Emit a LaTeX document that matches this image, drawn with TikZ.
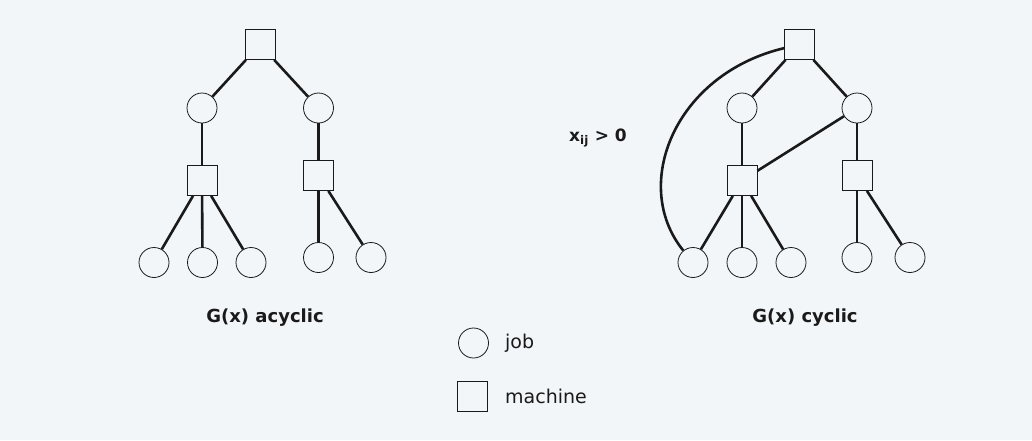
\documentclass[tikz,border=0pt]{standalone}
\usepackage{fontspec}
\setmainfont{DejaVu Sans}
\definecolor{bg}{HTML}{F3F6F9}
\definecolor{ink}{HTML}{1A1A1A}
\begin{document}
\begin{tikzpicture}[x=1pt,y=-1pt,
  job/.style={circle,draw=ink,line width=0.8pt,minimum size=30pt,inner sep=0pt},
  machine/.style={rectangle,draw=ink,line width=0.8pt,minimum size=30pt,inner sep=0pt},
  edge/.style={draw=ink,line width=2.6pt},
  title/.style={font=\fontsize{18}{21}\selectfont\bfseries,text=ink},
  legend/.style={font=\fontsize{19}{23}\selectfont,text=ink,anchor=west,inner sep=0pt}]
\fill[bg] (0,0) rectangle (1032,440);
\useasboundingbox (0,0) rectangle (1032,440);
% left tree
\node[machine] (lm) at (260,44.5) {};
\node[job] (lj1) at (202,108) {};
\node[job] (lj2) at (318.5,108) {};
\node[machine] (lm1) at (202,180.5) {};
\node[machine] (lm2) at (318.5,175.5) {};
\node[job] (lb1) at (154,262.5) {};
\node[job] (lb2) at (202.5,262.5) {};
\node[job] (lb3) at (251,262.5) {};
\node[job] (lb4) at (318.5,257.5) {};
\node[job] (lb5) at (371,257.5) {};
\draw[edge] (lm) -- (lj1);
\draw[edge] (lm) -- (lj2);
\draw[edge] (lj1) -- (lm1);
\draw[edge] (lj2) -- (lm2);
\draw[edge] (lm1) -- (lb1);
\draw[edge] (lm1) -- (lb2);
\draw[edge] (lm1) -- (lb3);
\draw[edge] (lm2) -- (lb4);
\draw[edge] (lm2) -- (lb5);
\node[title] (lt) at (265,318) {G(x) acyclic};
% right tree
\node[machine] (rm) at (799.5,44.5) {};
\node[job] (rj1) at (742,108) {};
\node[job] (rj2) at (857,108) {};
\node[machine] (rm1) at (742,180.5) {};
\node[machine] (rm2) at (857,175.5) {};
\node[job] (rb1) at (693,262.5) {};
\node[job] (rb2) at (742,262.5) {};
\node[job] (rb3) at (791,262.5) {};
\node[job] (rb4) at (857,257.5) {};
\node[job] (rb5) at (910,257.5) {};
\draw[edge] (rm) -- (rj1);
\draw[edge] (rm) -- (rj2);
\draw[edge] (rj1) -- (rm1);
\draw[edge] (rj2) -- (rm2);
\draw[edge] (rj2) -- (rm1);
\draw[edge] (rm1) -- (rb1);
\draw[edge] (rm1) -- (rb2);
\draw[edge] (rm1) -- (rb3);
\draw[edge] (rm2) -- (rb4);
\draw[edge] (rm2) -- (rb5);
\draw[edge] (rm) .. controls (675,74) and (630,185) .. (rb1);
\node[title] (rt) at (805,318) {G(x) cyclic};
\node[title,font=\fontsize{17}{20}\selectfont\bfseries] (xl) at (598,138) {x\textsubscript{ij} > 0};
% legend
\node[job] (lgj) at (473.5,343) {};
\node[machine] (lgm) at (472,396) {};
\node[legend] (lgjt) at (505,343) {job};
\node[legend] (lgmt) at (505,396) {machine};
\end{tikzpicture}
\end{document}
